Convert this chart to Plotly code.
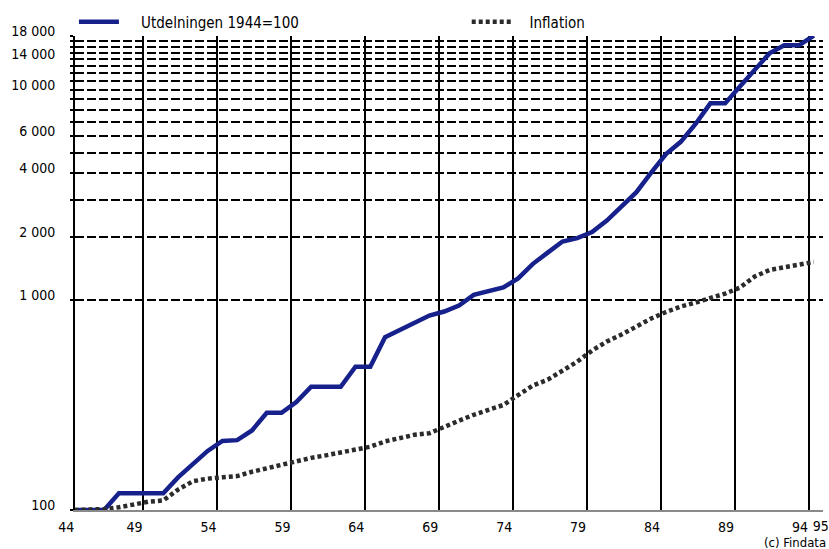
import plotly.graph_objects as go

# ---- data ----
years = list(range(44, 95))
utdelningen = [100, 100, 100, 120, 120, 120, 120, 143, 166, 191,
               213, 215, 239, 290, 290, 326, 386, 386, 386, 481,
               481, 664, 720, 782, 842, 880, 940, 1056, 1099, 1145,
               1265, 1484, 1678, 1895, 1968, 2103, 2385, 2781, 3253, 4035,
               4940, 5650, 6870, 8610, 8610, 10370, 12430, 14890, 16260, 16260,
               18100]
inflation = [100, 100, 101, 103, 106.5, 109.5, 111, 125, 137, 141,
             143, 145, 152, 158, 164, 170, 177, 182, 188, 193,
             200, 212, 221, 228, 232, 247, 266, 284, 300, 316,
             352, 391, 417, 460, 508, 574, 633, 684, 746, 815,
             875, 929, 971, 1014, 1071, 1144, 1291, 1387, 1426, 1456,
             1514]

series_names = ["Utdelningen 1944=100", "Inflation"]

x_grid_pos = [44.03, 48.65, 53.65, 58.65, 63.65, 68.65, 73.65, 78.65, 83.65, 88.65, 93.65, 94.6]
x_grid_labels = ["44", "49", "54", "59", "64", "69", "74", "79", "84", "89", "94", ""]
x_last_label_pos = [94.4]
x_last_label = ["95"]

y_label_vals = [100, 1000, 2000, 4000, 6000, 10000, 14000, 18000]
y_label_text = ["100", "1 000", "2 000", "4 000", "6 000", "10 000", "14 000", "18 000"]
y_grid_vals = [v * 1000 for v in range(1, 19)]

FONT = "Liberation Sans Narrow, Arial Narrow, DejaVu Sans Condensed, sans-serif"
NB = "\u00a0"

fig = go.Figure()
fig.add_trace(go.Scatter(
    x=years, y=utdelningen, mode="lines", name=NB * 4 + series_names[0],
    line=dict(color="#17218c", width=4.5), legend="legend",
))
fig.add_trace(go.Scatter(
    x=years, y=inflation, mode="lines", name=NB * 3 + series_names[1],
    line=dict(color="#2b2b2b", width=4.5, dash="4px,3px"), legend="legend2",
))
# empty carrier so the secondary label axis (for "95") is drawn
fig.add_trace(go.Scatter(
    x=[], y=[], xaxis="x2", yaxis="y", showlegend=False, hoverinfo="skip",
))

legend_common = dict(
    orientation="h", yanchor="middle", y=1.0295, xanchor="left",
    font=dict(family=FONT, size=15, color="black"),
    itemwidth=40, bgcolor="rgba(0,0,0,0)", borderwidth=0,
)

fig.update_layout(
    width=829, height=549,
    margin=dict(l=75, r=5.5, t=36, b=39, autoexpand=False),
    paper_bgcolor="white", plot_bgcolor="white",
    font=dict(family=FONT, size=14, color="black"),
    showlegend=True,
    legend=dict(x=-0.0014, **legend_common),
    legend2=dict(x=0.5237, **legend_common),
    xaxis=dict(
        range=[44.03, 94.62],
        tickmode="array", tickvals=x_grid_pos, ticktext=x_grid_labels,
        ticklabelposition="outside left", ticklabelstandoff=3,
        showgrid=True, gridcolor="black", gridwidth=2,
        showline=True, linecolor="#8a8a8a", linewidth=1.5,
        ticks="", zeroline=False,
        tickfont=dict(family=FONT, size=14),
    ),
    xaxis2=dict(
        overlaying="x", anchor="y", side="bottom",
        range=[44.03, 94.62],
        tickmode="array", tickvals=x_last_label_pos, ticktext=x_last_label,
        ticklabelstandoff=6, ticklabelshift=1, ticklabeloverflow="allow",
        showgrid=False, showline=False, ticks="", zeroline=False,
        tickfont=dict(family=FONT, size=14),
    ),
    yaxis=dict(
        type="log", range=[2, 4.2556],
        tickmode="array", tickvals=y_label_vals, ticktext=y_label_text,
        showgrid=False, zeroline=False,
        showline=True, linecolor="black", linewidth=2,
        ticks="outside", ticklen=3, tickcolor="black", tickwidth=1.5,
        ticklabelstandoff=12, ticklabelshift=-5,
        tickfont=dict(family=FONT, size=14),
        minor=dict(
            tickmode="array", tickvals=y_grid_vals,
            showgrid=True, gridcolor="black", gridwidth=1.8, griddash="9px,3px",
            ticks="outside", ticklen=3, tickcolor="black", tickwidth=1.5,
        ),
    ),
    annotations=[dict(
        text="(c) Findata", xref="paper", yref="paper",
        x=1.0073, y=-0.0696, xanchor="right", yanchor="middle",
        showarrow=False, font=dict(family=FONT, size=13, color="black"),
    )],
)

fig.write_html("out.html", config={"displayModeBar": False},
               post_script="document.body.style.margin='0';")
